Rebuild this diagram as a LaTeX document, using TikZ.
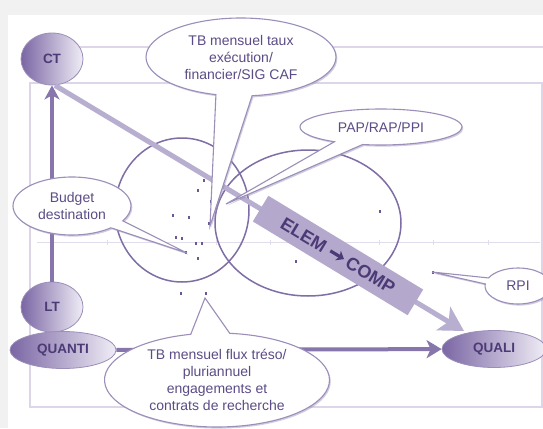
\documentclass[tikz,border=0pt]{standalone}
\usepackage{fontspec}
\setmainfont{Liberation Sans}
\setsansfont{Liberation Sans}
\usetikzlibrary{shapes.geometric,shapes.callouts,arrows.meta,shadows}

\definecolor{pagegray}{HTML}{F1F1F1}
\definecolor{framecol}{HTML}{DCD6E8}
\definecolor{axiscol}{HTML}{E2DDEC}
\definecolor{ink}{HTML}{4B3A76}
\definecolor{bubtext}{HTML}{5C4C86}
\definecolor{bubline}{HTML}{9B8EB9}
\definecolor{darkarrow}{HTML}{8676AC}
\definecolor{lightarrow}{HTML}{B8AED0}
\definecolor{boxfill}{HTML}{B4A8CC}
\definecolor{orbit}{HTML}{7F6EA5}
\definecolor{nodedark}{HTML}{7A66A4}
\definecolor{nodelight}{HTML}{F0EDF6}
\definecolor{markcol}{HTML}{6A5894}

\tikzset{
  term/.style={ellipse, inner sep=0pt, left color=nodedark, right color=nodelight,
    draw=bubline, line width=0.8pt, text=ink,
    font=\bfseries\fontsize{13.5}{15}\selectfont},
  bubble/.style={ellipse callout, fill=white, draw=bubline, line width=1.1pt,
    inner sep=0pt, align=center, text=bubtext,
    font=\fontsize{14}{17}\selectfont,
    drop shadow={shadow xshift=1.3pt, shadow yshift=-1.6pt, fill=bubline, opacity=0.45}},
  frameline/.style={draw=framecol, line width=1.6pt},
  axisline/.style={draw=axiscol, line width=1pt},
  orbitline/.style={draw=orbit, line width=1.5pt},
  linkarrow/.style={draw=darkarrow, line width=4pt},
  flowarrow/.style={draw=lightarrow, line width=5pt},
  elembox/.style={rectangle, fill=boxfill, inner sep=0pt, text=ink,
    minimum width=181pt, minimum height=30pt,
    font=\bfseries\fontsize{18}{20}\selectfont},
  boxarrow/.style={draw=ink, line width=3.2pt,
    -{Stealth[length=7pt, width=11pt, inset=2pt]}},
  datamark/.style={fill=markcol}
}

\begin{document}
\begin{tikzpicture}[x=1pt,y=-1pt]
  \useasboundingbox (0,0) rectangle (543,428);
  % page and panel
  \fill[pagegray] (0,0) rectangle (543,428);
  \fill[white] (8,15) rectangle (543,428);

  % plot frame
  \draw[frameline] (60,47) -- (543,47);
  \draw[frameline] (30,83) rectangle (542,407);

  % horizontal axis with ticks
  \draw[axisline] (37,242) -- (540,242);
  \foreach \t in {107,161,216,270,325,379,433,488}
    \draw[axisline] (\t,239.5) -- (\t,244.5);

  % the two groupings
  \draw[orbitline] (182,210) ellipse [x radius=67, y radius=72];
  \draw[orbitline] (308,223) ellipse [x radius=93, y radius=73];

  % data points
  \foreach \px/\py in {197/189,210/200,208/222,195/242,175/236,185/251,197/257,
                       180/292,205/292,181/237,201/242,379/210,295/260,432/271,
                       203/179,172/214,188/216}
    \fill[datamark] (\px,\py) rectangle ++(1.6,3);

  % axis end points
  \node[term, minimum width=62pt, minimum height=52pt] (ct) at (52,59) {CT};
  \node[term, minimum width=62pt, minimum height=50pt] (lt) at (52,307) {LT};
  \node[term, minimum width=106pt, minimum height=37pt] (quanti) at (63,350) {QUANTI};
  \node[term, minimum width=104pt, minimum height=37pt] (quali) at (494,349) {QUALI};

  % axes
  \draw[linkarrow, -{Stealth[length=14pt, width=15pt, inset=4pt]}] (lt) -- (ct);
  \draw[linkarrow, -{Stealth[length=15pt, width=18pt, inset=4pt]}] (quanti) -- (quali);

  % trend from elementary to composite
  \coordinate (trendend) at (464,331);
  \draw[flowarrow, -{Stealth[length=24pt, width=27pt, inset=6pt]}]
    ([xshift=3pt]ct.south) -- (trendend);
  \node[elembox, rotate=-31.2] (elem) at (338,255.5)
    {ELEM\hspace{26pt}COMP};
  % heavy arrow between the two words, along the box
  \begin{scope}[shift={(elem.center)}, rotate=-31.2]
    \draw[boxarrow] (-9,0) -- (7,0);
  \end{scope}

  % pointers of the call-outs
  \coordinate (tauxtip) at (210,226);
  \coordinate (paptip) at (226,204);
  \coordinate (budgettip) at (187,253);
  \coordinate (fluxtip) at (205,298);
  \coordinate (rpitip) at (432,272);

  % call-outs
  \node[bubble, minimum width=190pt, minimum height=78pt,
        callout absolute pointer={(tauxtip)}, callout pointer arc=22]
        (taux) at (241,57) {TB mensuel taux\\exécution/\\financier/SIG CAF};
  \node[bubble, minimum width=162pt, minimum height=36pt,
        callout absolute pointer={(paptip)}, callout pointer arc=22]
        (pap) at (381,127) {PAP/RAP/PPI};
  \node[bubble, minimum width=118pt, minimum height=58pt,
        callout absolute pointer={(budgettip)}, callout pointer arc=18]
        (budget) at (72,206) {Budget\\destination};
  \node[bubble, minimum width=225pt, minimum height=94pt,
        callout absolute pointer={(fluxtip)}, callout pointer arc=20]
        (flux) at (217,380) {TB mensuel flux tréso/\\pluriannuel\\engagements et\\contrats de recherche};
  \node[bubble, minimum width=66pt, minimum height=36pt,
        callout absolute pointer={(rpitip)}, callout pointer arc=20]
        (rpi) at (518,286) {RPI};
\end{tikzpicture}
\end{document}
